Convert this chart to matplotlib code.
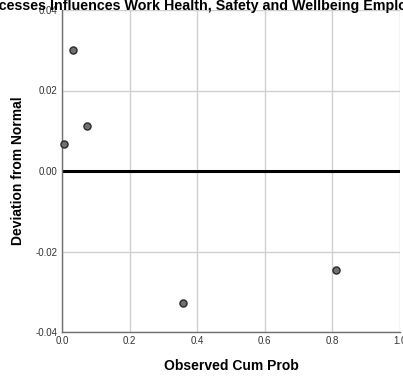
import matplotlib.pyplot as plt

plt.rcParams['font.family'] = ['Liberation Sans', 'DejaVu Sans']

# Detrended normal Q-Q values
observed_cum_prob = [0.005, 0.033, 0.075, 0.358, 0.810]
deviation = [0.0067, 0.0301, 0.0112, -0.0329, -0.0247]

x_ticks = [0.0, 0.2, 0.4, 0.6, 0.8, 1.0]
y_ticks = [-0.04, -0.02, 0.00, 0.02, 0.04]

fig = plt.figure(figsize=(4.03, 3.76), dpi=100)
ax = fig.add_axes([62 / 403, 1 - 332 / 376, 338 / 403, 322 / 376])

ax.set_xlim(0, 1.0)
ax.set_ylim(-0.04, 0.04)
ax.set_xticks(x_ticks)
ax.set_yticks(y_ticks)
ax.set_xticklabels([f"{v:.1f}" for v in x_ticks])
ax.set_yticklabels([f"{v:.2f}" for v in y_ticks])
ax.tick_params(length=0, labelsize=7, colors='#333333', pad=3)

ax.grid(True, color='#d0d0d0', linewidth=1)
ax.set_axisbelow(True)
for side in ['top', 'right']:
    ax.spines[side].set_visible(False)
for side in ['left', 'bottom']:
    ax.spines[side].set_color('#707070')
    ax.spines[side].set_linewidth(1)

ax.axhline(0, color='black', linewidth=2.2, zorder=2)
ax.scatter(observed_cum_prob, deviation, s=26, color='#707070',
           edgecolors='#2a2a2a', linewidths=1, zorder=3, clip_on=False)

ax.set_xlabel("Observed Cum Prob", fontsize=10, fontweight='bold', labelpad=9)
ax.set_ylabel("Deviation from Normal", fontsize=10, fontweight='bold', labelpad=8)

fig.text(0.512, 1.003, "Processes Influences Work Health, Safety and Wellbeing Employees",
         ha='center', va='top', fontsize=10.3, fontweight='bold')

fig.savefig("out.png", dpi=100)
